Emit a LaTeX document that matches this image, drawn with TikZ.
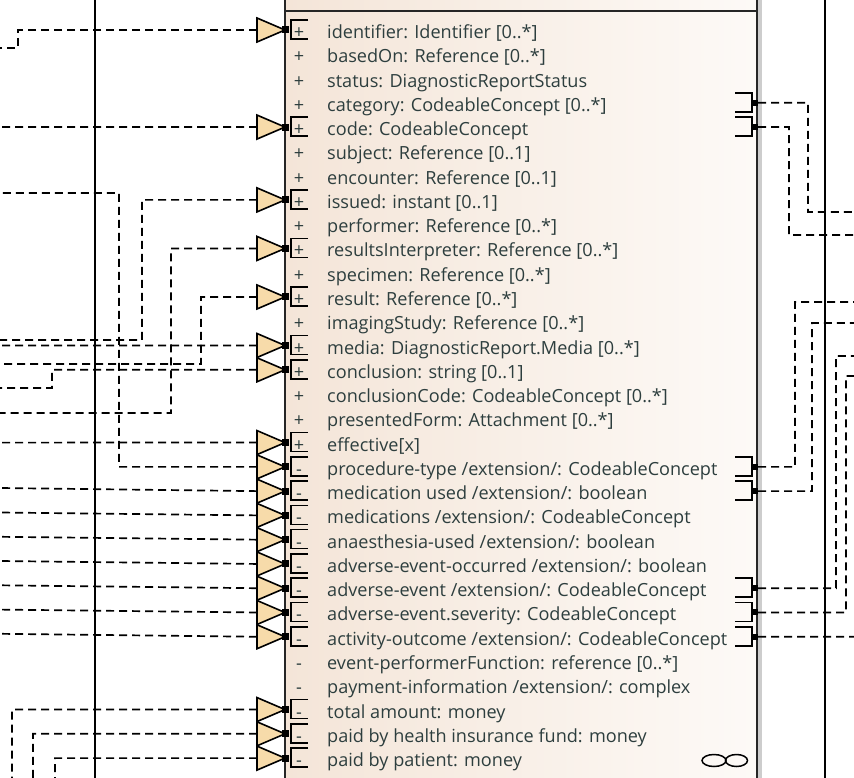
\documentclass[tikz,border=0pt]{standalone}
\usepackage{fontspec}
\setmainfont{Open Sans}[Ligatures=NoCommon]
\definecolor{txt}{RGB}{45,62,62}
\definecolor{tri}{RGB}{247,219,170}
\definecolor{boxl}{RGB}{244,229,216}
\definecolor{boxr}{RGB}{253,250,247}
\definecolor{shadow}{RGB}{205,205,205}
\tikzset{
  conn/.style={draw=black, line width=1.7pt, dash pattern=on 8pt off 5pt},
  lifeline/.style={draw=black, line width=1.8pt},
  attr/.style={anchor=base west, inner sep=0pt, font=\fontsize{18.1}{24}\selectfont, text=txt},
  visib/.style={anchor=base, inner sep=0pt, font=\fontsize{18.1}{24}\selectfont, text=txt},
  arrowtri/.style={fill=tri, draw=black, line width=1.6pt, line join=miter},
  portbox/.style={draw=black, line width=1.5pt},
  portdot/.style={fill=black},
  classframe/.style={draw=black!85, line width=1.6pt},
  infin/.style={draw=black, line width=1.5pt}
}
\newcommand\attrrow[3]{%
  \node[visib] (v#1) at (299,{30+24.27*#1+8.5}) {#2};
  \node[attr] (a#1) at (327,{30+24.27*#1+8.5}) {#3};}
\newcommand\lport[1]{%
  \draw[arrowtri] (257,{30+24.27*#1-12}) -- (285,{30+24.27*#1}) -- (257,{30+24.27*#1+12}) -- cycle;
  \fill[portdot] (282,{30+24.27*#1-3.5}) rectangle (289,{30+24.27*#1+3.5});
  \draw[portbox] (308,{30+24.27*#1-10}) -- (291,{30+24.27*#1-10}) -- (291,{30+24.27*#1+9}) -- (308,{30+24.27*#1+9});
  \coordinate (L#1) at (257,{30+24.27*#1});}
\newcommand\rport[1]{%
  \draw[portbox] (735,{30+24.27*#1-10}) -- (752,{30+24.27*#1-10}) -- (752,{30+24.27*#1+9}) -- (735,{30+24.27*#1+9});
  \fill[portdot] (751,{30+24.27*#1-3}) rectangle (758,{30+24.27*#1+3});
  \coordinate (R#1) at (758,{30+24.27*#1});}
\begin{document}
\begin{tikzpicture}[x=1pt,y=-1pt]
\useasboundingbox (0,0) rectangle (854,778);
% lifelines
\draw[lifeline] (95,-2) -- (95,780);
\draw[lifeline] (825,-2) -- (825,780);
% class box
\fill[shadow] (757,-5) rectangle (762,790);
\shade[left color=boxl,right color=boxr] (285,-5) rectangle (757,790);
\draw[classframe] (285,-5) rectangle (757,790);
\draw[classframe] (285,11) -- (757,11);
% attributes
\attrrow{0}{+}{identifier: Identifier [0..*]}
\attrrow{1}{+}{basedOn: Reference [0..*]}
\attrrow{2}{+}{status: DiagnosticReportStatus}
\attrrow{3}{+}{category: CodeableConcept [0..*]}
\attrrow{4}{+}{code: CodeableConcept}
\attrrow{5}{+}{subject: Reference [0..1]}
\attrrow{6}{+}{encounter: Reference [0..1]}
\attrrow{7}{+}{issued: instant [0..1]}
\attrrow{8}{+}{performer: Reference [0..*]}
\attrrow{9}{+}{resultsInterpreter: Reference [0..*]}
\attrrow{10}{+}{specimen: Reference [0..*]}
\attrrow{11}{+}{result: Reference [0..*]}
\attrrow{12}{+}{imagingStudy: Reference [0..*]}
\attrrow{13}{+}{media: DiagnosticReport.Media [0..*]}
\attrrow{14}{+}{conclusion: string [0..1]}
\attrrow{15}{+}{conclusionCode: CodeableConcept [0..*]}
\attrrow{16}{+}{presentedForm: Attachment [0..*]}
\attrrow{17}{+}{effective[x]}
\attrrow{18}{-}{procedure-type /extension/: CodeableConcept}
\attrrow{19}{-}{medication used /extension/: boolean}
\attrrow{20}{-}{medications /extension/: CodeableConcept}
\attrrow{21}{-}{anaesthesia-used /extension/: boolean}
\attrrow{22}{-}{adverse-event-occurred /extension/: boolean}
\attrrow{23}{-}{adverse-event /extension/: CodeableConcept}
\attrrow{24}{-}{adverse-event.severity: CodeableConcept}
\attrrow{25}{-}{activity-outcome /extension/: CodeableConcept}
\attrrow{26}{-}{event-performerFunction: reference [0..*]}
\attrrow{27}{-}{payment-information /extension/: complex}
\attrrow{28}{-}{total amount: money}
\attrrow{29}{-}{paid by health insurance fund: money}
\attrrow{30}{-}{paid by patient: money}
% left ports
\lport{0}\lport{4}\lport{7}\lport{9}\lport{11}\lport{13}\lport{14}\lport{17}
\lport{18}\lport{19}\lport{20}\lport{21}\lport{22}\lport{23}\lport{24}\lport{25}
\lport{28}\lport{29}\lport{30}
% right ports
\rport{3}\rport{4}\rport{18}\rport{19}\rport{23}\rport{24}\rport{25}
% free ends
\coordinate (e0) at (0,48);
\coordinate (e4) at (0,127.08);
\coordinate (e7) at (0,340);
\coordinate (e9) at (0,413);
\coordinate (e11) at (0,364);
\coordinate (e13) at (0,345.5);
\coordinate (e14) at (0,388);
\coordinate (e17) at (0,442.6);
\coordinate (e18) at (0,193);
\coordinate (e19) at (0,488);
\coordinate (e20) at (0,512.5);
\coordinate (e21) at (0,536.8);
\coordinate (e22) at (0,561);
\coordinate (e23) at (0,585.3);
\coordinate (e24) at (0,609.6);
\coordinate (e25) at (0,633.8);
\coordinate (e28) at (12,778);
\coordinate (e29) at (33,778);
\coordinate (e30) at (55,778);
\coordinate (f3) at (854,212);
\coordinate (f4) at (854,235);
\coordinate (f18) at (854,302);
\coordinate (f19) at (854,323);
\coordinate (f23) at (854,356);
\coordinate (f24) at (854,376);
\coordinate (f25) at (854,636.75);
% left connectors
\draw[conn] (L0) -- (18,30) -- (18,48) -- (e0);
\draw[conn] (L4) -- (e4);
\draw[conn] (L7) -- (142,199.89) -- (142,340) -- (e7);
\draw[conn] (L9) -- (171,248.43) -- (171,413) -- (e9);
\draw[conn] (L11) -- (201,296.97) -- (201,364) -- (e11);
\draw[conn] (L13) -- (e13);
\draw[conn] (L14) -- (52,369.78) -- (52,388) -- (e14);
\draw[conn] (L17) -- (e17);
\draw[conn] (L18) -- (119,466.86) -- (119,193) -- (e18);
\draw[conn] (L19) -- (e19);
\draw[conn] (L20) -- (e20);
\draw[conn] (L21) -- (e21);
\draw[conn] (L22) -- (e22);
\draw[conn] (L23) -- (e23);
\draw[conn] (L24) -- (e24);
\draw[conn] (L25) -- (e25);
\draw[conn] (L28) -- (12,709.56) -- (e28);
\draw[conn] (L29) -- (33,733.83) -- (e29);
\draw[conn] (L30) -- (55,758.1) -- (e30);
% right connectors
\draw[conn] (R3) -- (808,102.81) -- (808,212) -- (f3);
\draw[conn] (R4) -- (789,127.08) -- (789,235) -- (f4);
\draw[conn] (R18) -- (795,466.86) -- (795,302) -- (f18);
\draw[conn] (R19) -- (812,491.13) -- (812,323) -- (f19);
\draw[conn] (R23) -- (836,588.21) -- (836,356) -- (f23);
\draw[conn] (R24) -- (846,612.48) -- (846,376) -- (f24);
\draw[conn] (R25) -- (f25);
% infinity-like symbol
\draw[infin] (714,760.5) ellipse [x radius=12, y radius=6];
\draw[infin] (736.5,760.5) ellipse [x radius=11, y radius=6];
\end{tikzpicture}
\end{document}
